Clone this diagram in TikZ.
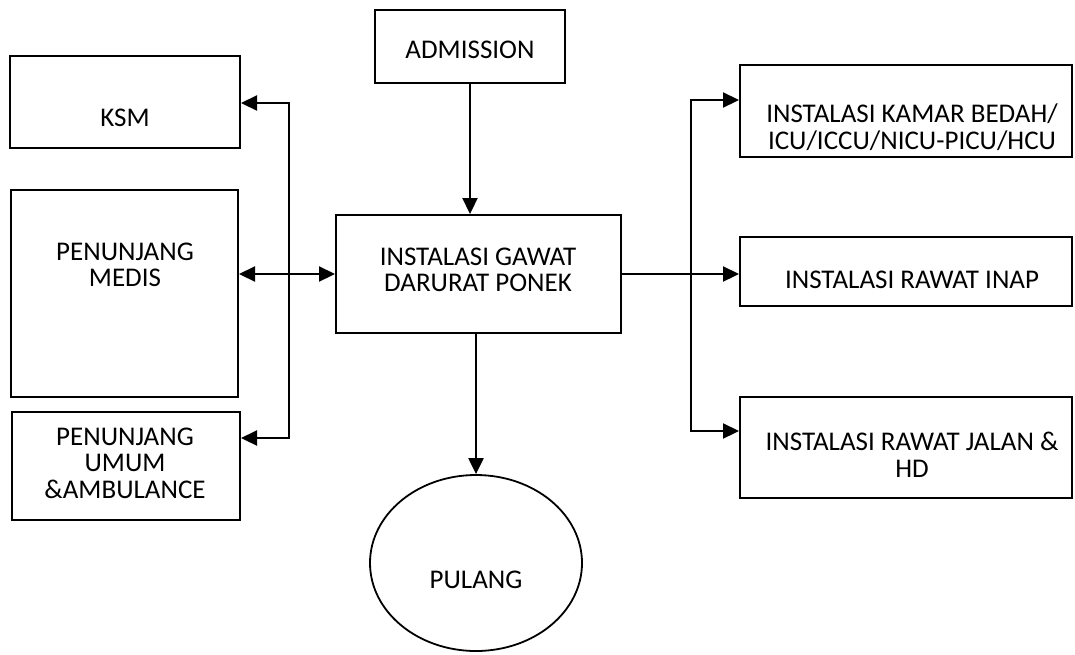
\documentclass[tikz,border=0pt]{standalone}
\usepackage{fontspec}
\setmainfont{Carlito}
\usetikzlibrary{arrows.meta,shapes.geometric}
\begin{document}
\begin{tikzpicture}[x=1pt,y=-1pt,
  box/.style={draw=black,line width=2pt,rectangle,inner sep=0pt},
  oval/.style={draw=black,line width=1.8pt,ellipse,inner sep=0pt},
  txt/.style={align=center,inner sep=0pt,font=\fontsize{27}{26.5}\selectfont},
  link/.style={line width=2.2pt,-{Triangle[length=16pt,width=15pt]}},
  biarrow/.style={line width=2.2pt,{Triangle[length=16pt,width=15pt]}-{Triangle[length=16pt,width=15pt]}}]
  \useasboundingbox (0,0) rectangle (1075,654);

  % boxes
  \node[box,minimum width=190pt,minimum height=73pt] (adm) at (470,46.5) {};
  \node[box,minimum width=230pt,minimum height=92pt] (ksm) at (125,102) {};
  \node[box,minimum width=227pt,minimum height=207pt] (medis) at (124.5,293.5) {};
  \node[box,minimum width=228pt,minimum height=108pt] (umum) at (126,466) {};
  \node[box,minimum width=285pt,minimum height=118pt] (gd) at (478.5,274) {};
  \node[box,minimum width=332pt,minimum height=92pt] (bedah) at (906,111) {};
  \node[box,minimum width=332pt,minimum height=69pt] (inap) at (906,271.5) {};
  \node[box,minimum width=332pt,minimum height=101pt] (jalan) at (906,447.5) {};
  \node[oval,minimum width=212pt,minimum height=176pt] (pul) at (476,563) {};

  % labels
  \node[txt] (t-adm) at (470,50) {ADMISSION};
  \node[txt] (t-ksm) at (125,118) {KSM};
  \node[txt] (t-medis) at (125,265) {PENUNJANG\\MEDIS};
  \node[txt] (t-umum) at (125,463) {PENUNJANG\\UMUM\\\&AMBULANCE};
  \node[txt] (t-gd) at (478,270) {INSTALASI GAWAT\\DARURAT PONEK};
  \node[txt] (t-bedah) at (912,127) {INSTALASI KAMAR BEDAH/\\ICU/ICCU/NICU-PICU/HCU};
  \node[txt] (t-inap) at (912,280) {INSTALASI RAWAT INAP};
  \node[txt] (t-jalan) at (912,455) {INSTALASI RAWAT JALAN \&\\HD};
  \node[txt] (t-pul) at (476,580) {PULANG};

  % bus junctions
  \coordinate (lt) at (289,103);
  \coordinate (lb) at (289,438);
  \coordinate (rt) at (691,100);
  \coordinate (rb) at (691,431);

  % connectors
  \draw[link] (adm.south) -- (adm.south |- gd.north);
  \draw[link] (gd.south -| pul.north) -- (pul.north);
  \draw[biarrow] (ksm.east |- lt) -- (lt) -- (lb) -- (umum.east |- lb);
  \draw[biarrow] (medis.east |- gd.west) -- (gd.west);
  \draw[link] (gd.east) -- (inap.west |- gd.east);
  \draw[biarrow] (bedah.west |- rt) -- (rt) -- (rb) -- (jalan.west |- rb);
\end{tikzpicture}
\end{document}
